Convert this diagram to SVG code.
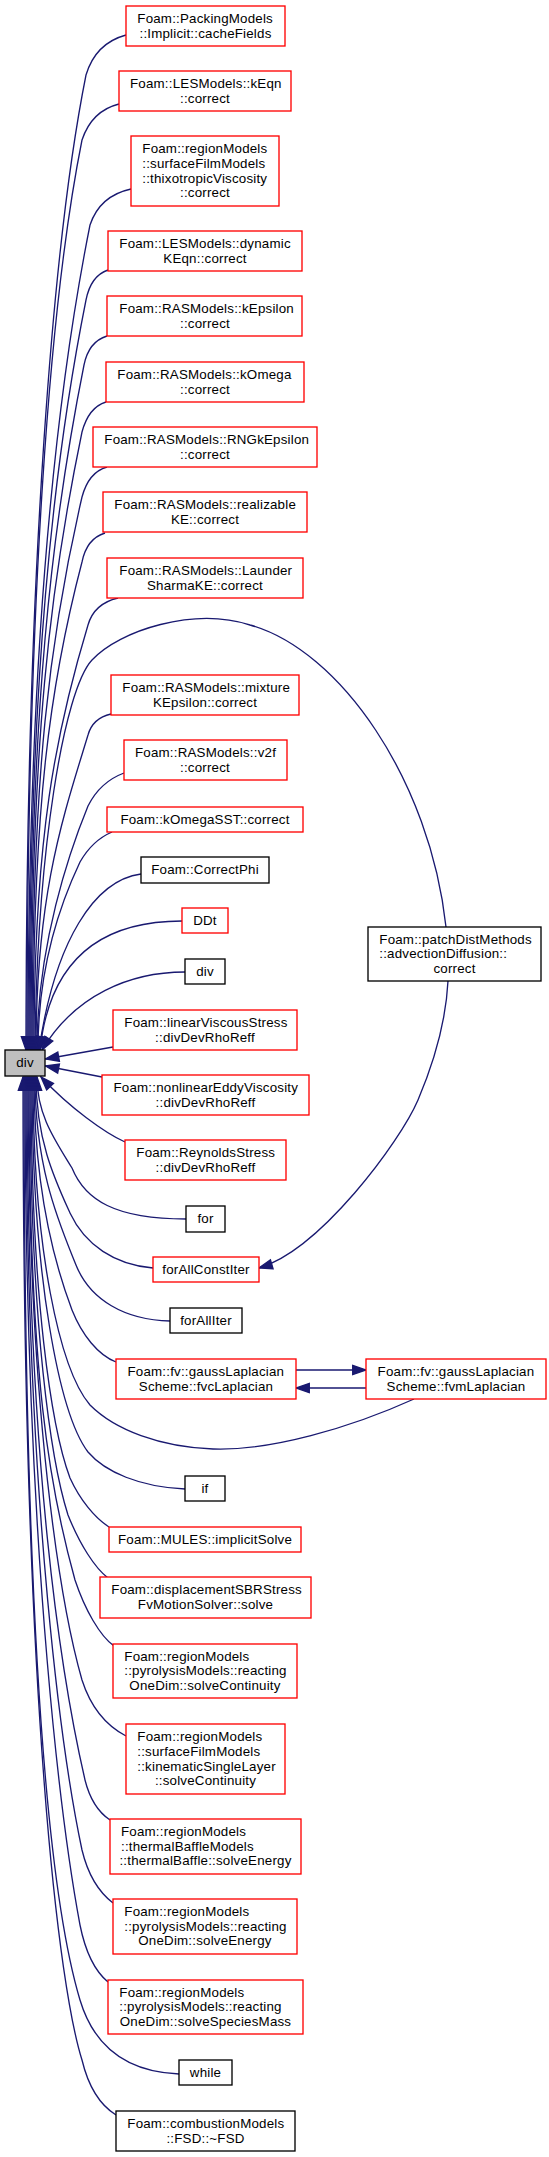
<svg xmlns="http://www.w3.org/2000/svg" width="549" height="2157" viewBox="0 0 549 2157">
<style>
.r{fill:#fff;stroke:#ff0000;stroke-width:1.33}
.b{fill:#fff;stroke:#000;stroke-width:1.33}
.g{fill:#bfbfbf;stroke:#000;stroke-width:1.33}
text{font-family:"Liberation Sans",Arial,Helvetica,sans-serif;font-size:13.33px;fill:#000;letter-spacing:0.2px}
.m{text-anchor:middle}
.e{fill:none;stroke:#191970;stroke-width:1.33;marker-end:url(#ah)}
</style>
<defs>
<marker id="ah" markerWidth="18" markerHeight="14" refX="15.3" refY="6.67" orient="auto" markerUnits="userSpaceOnUse">
<path d="M2,2 L15.3,6.67 L2,11.33 Z" fill="#191970" stroke="#191970" stroke-width="1.33"/>
</marker>
</defs>
<rect width="549" height="2157" fill="#fff"/>
<g id="edges">
<path class="e" d="M126,35 C104,41 92,55 86,75 C54,235 26,563 26,1050"/>
<path class="e" d="M119,104 C99,109 88,122 82,140 C50,300 27,595 27,1050"/>
<path class="e" d="M131,189 C108,194 96,207 90,225 C58,385 28,638 28,1050"/>
<path class="e" d="M108,270 C96,274 89,285 86,300 C54,460 29,675 29,1050"/>
<path class="e" d="M107,336 C94,340 87,350 84,365 C52,525 30,708 30,1050"/>
<path class="e" d="M106,402 C93,406 86,417 82,432 C50,586 31,741 31,1050"/>
<path class="e" d="M107,467 C93,471 86,482 82,497 C50,635 32,773 32,1050"/>
<path class="e" d="M105,533 C92,537 85,547 82,562 C50,684 33,806 33,1050"/>
<path class="e" d="M118,598 C101,602 92,611 88,625 C56,731 34,837 34,1050"/>
<path class="e" d="M446,927 C430,780 340,650 250,625 C194,607 120,630 92,660 C64,690 37,850 35,1050"/>
<path class="e" d="M111,714 C98,717 91,724 88,735 C64,814 36,892 36,1050"/>
<path class="e" d="M124,773 C108,779 96,790 88,806 C70,850 37,945 37,1050"/>
<path class="e" d="M112,832 C98,838 88,848 80,862 C62,900 38,965 38,1050"/>
<path class="e" d="M141,874 C95,880 55,940 39,1050"/>
<path class="e" d="M182,921 C105,921 50,955 40,1050"/>
<path class="e" d="M185,972 C130,972 75,995 42,1050"/>
<path class="e" d="M113,1047 L45.5,1059"/>
<path class="e" d="M102,1077 L45.5,1066"/>
<path class="e" d="M125,1142 C105,1133 70,1108 41,1077"/>
<path class="e" d="M186,1219 C115,1219 85,1200 72,1168 C55,1140 37,1115 37,1077"/>
<path class="e" d="M153,1268 C115,1265 85,1245 70,1213 C55,1180 36,1140 36,1077"/>
<path class="e" d="M170,1321 C125,1320 90,1300 76,1265 C60,1225 35,1170 35,1077"/>
<path class="e" d="M116,1362 C98,1355 82,1335 72,1310 C55,1265 34,1190 34,1077"/>
<path class="e" d="M414,1399 C350,1428 270,1451 213,1449 C160,1447 115,1430 90,1405 C60,1370 33,1250 33,1077"/>
<path class="e" d="M185,1489 C140,1487 105,1472 88,1452 C60,1415 32,1280 32,1077"/>
<path class="e" d="M109,1527 C95,1518 80,1500 70,1478 C52,1430 31,1300 31,1077"/>
<path class="e" d="M108,1578 C95,1568 80,1545 68,1515 C52,1465 30,1330 30,1077"/>
<path class="e" d="M114,1646 C100,1636 85,1610 75,1580 C50,1490 29,1380 29,1077"/>
<path class="e" d="M126,1736 C105,1725 90,1705 82,1680 C62,1610 28,1420 28,1077"/>
<path class="e" d="M110,1820 C98,1812 90,1800 85,1780 C62,1680 27,1470 27,1077"/>
<path class="e" d="M113,1903 C100,1893 88,1875 82,1850 C65,1770 26,1520 26,1077"/>
<path class="e" d="M108,1982 C96,1972 86,1955 80,1925 C66,1850 25,1580 25,1077"/>
<path class="e" d="M179,2074 C130,2072 95,2050 80,2000 C50,1900 24,1650 24,1077"/>
<path class="e" d="M116,2115 C100,2105 88,2085 82,2060 C60,1990 23,1720 23,1077"/>
<path class="e" d="M448,981 C446,1020 435,1060 418,1100 C400,1142 320,1250 259,1268"/>
<path class="e" d="M296,1370 L366,1370"/>
<path class="e" d="M366,1388 L296,1388"/>
</g>
<g id="n_div"><rect class="g" x="5" y="1050" width="40" height="26"/><text class="m" x="25" y="1067.2">div</text></g>
<g id="n1"><rect class="r" x="126" y="6" width="159" height="40"/><text x="137.3" y="22.9">Foam::PackingModels</text><text class="m" x="205.5" y="37.5">::Implicit::cacheFields</text></g>
<g id="n2"><rect class="r" x="119" y="71" width="172" height="40"/><text x="130" y="87.9">Foam::LESModels::kEqn</text><text class="m" x="205" y="102.5">::correct</text></g>
<g id="n3"><rect class="r" x="131" y="136" width="148" height="70"/><text x="142.3" y="153.2">Foam::regionModels</text><text x="142.3" y="167.9">::surfaceFilmModels</text><text x="142.3" y="182.5">::thixotropicViscosity</text><text class="m" x="205" y="197.2">::correct</text></g>
<g id="n4"><rect class="r" x="108" y="231" width="194" height="40"/><text x="119.3" y="247.9">Foam::LESModels::dynamic</text><text class="m" x="205" y="262.5">KEqn::correct</text></g>
<g id="n5"><rect class="r" x="107" y="296" width="195" height="40"/><text x="119.3" y="312.9">Foam::RASModels::kEpsilon</text><text class="m" x="205" y="327.5">::correct</text></g>
<g id="n6"><rect class="r" x="106" y="362" width="198" height="40"/><text x="117.3" y="378.9">Foam::RASModels::kOmega</text><text class="m" x="205" y="393.5">::correct</text></g>
<g id="n7"><rect class="r" x="93" y="427" width="224" height="40"/><text x="104.3" y="443.9">Foam::RASModels::RNGkEpsilon</text><text class="m" x="205" y="458.5">::correct</text></g>
<g id="n8"><rect class="r" x="103" y="492" width="204" height="40"/><text x="114.3" y="508.9">Foam::RASModels::realizable</text><text class="m" x="205" y="523.5">KE::correct</text></g>
<g id="n9"><rect class="r" x="107" y="558" width="196" height="40"/><text x="119.3" y="574.9">Foam::RASModels::Launder</text><text class="m" x="205" y="589.5">SharmaKE::correct</text></g>
<g id="n10"><rect class="r" x="111" y="675" width="188" height="40"/><text x="122.3" y="691.9">Foam::RASModels::mixture</text><text class="m" x="205" y="706.5">KEpsilon::correct</text></g>
<g id="n11"><rect class="r" x="124" y="740" width="163" height="40"/><text x="135" y="756.9">Foam::RASModels::v2f</text><text class="m" x="205" y="771.5">::correct</text></g>
<g id="n12"><rect class="r" x="107" y="807" width="196" height="25"/><text class="m" x="205" y="823.7">Foam::kOmegaSST::correct</text></g>
<g id="n13"><rect class="b" x="141" y="857" width="128" height="26"/><text class="m" x="205" y="874.2">Foam::CorrectPhi</text></g>
<g id="n14"><rect class="r" x="182" y="908" width="46" height="25"/><text class="m" x="205" y="924.7">DDt</text></g>
<g id="n15"><rect class="b" x="185" y="959" width="40" height="25"/><text class="m" x="205" y="975.7">div</text></g>
<g id="n16"><rect class="r" x="113" y="1010" width="184" height="40"/><text x="124.3" y="1026.9">Foam::linearViscousStress</text><text class="m" x="205" y="1041.5">::divDevRhoReff</text></g>
<g id="n17"><rect class="r" x="102" y="1075" width="207" height="40"/><text x="113.5" y="1091.9">Foam::nonlinearEddyViscosity</text><text class="m" x="205.5" y="1106.5">::divDevRhoReff</text></g>
<g id="n18"><rect class="r" x="125" y="1140" width="161" height="40"/><text x="136.3" y="1156.9">Foam::ReynoldsStress</text><text class="m" x="205.5" y="1171.5">::divDevRhoReff</text></g>
<g id="n19"><rect class="b" x="186" y="1206" width="39" height="26"/><text class="m" x="205.5" y="1223.2">for</text></g>
<g id="n20"><rect class="r" x="153" y="1257" width="106" height="25"/><text class="m" x="206" y="1273.7">forAllConstIter</text></g>
<g id="n21"><rect class="b" x="170" y="1308" width="72" height="25"/><text class="m" x="206" y="1324.7">forAllIter</text></g>
<g id="n22"><rect class="r" x="116" y="1359" width="180" height="40"/><text x="127.5" y="1375.9">Foam::fv::gaussLaplacian</text><text class="m" x="206" y="1390.5">Scheme::fvcLaplacian</text></g>
<g id="n23"><rect class="r" x="366" y="1359" width="180" height="40"/><text x="377.6" y="1375.9">Foam::fv::gaussLaplacian</text><text class="m" x="456" y="1390.5">Scheme::fvmLaplacian</text></g>
<g id="n_patch"><rect class="b" x="368" y="927" width="173" height="54"/><text x="379.3" y="943.5">Foam::patchDistMethods</text><text x="379.3" y="958.2">::advectionDiffusion::</text><text class="m" x="454.5" y="972.9">correct</text></g>
<g id="n24"><rect class="b" x="185" y="1476" width="40" height="25"/><text class="m" x="205" y="1492.7">if</text></g>
<g id="n25"><rect class="r" x="109" y="1527" width="192" height="25"/><text class="m" x="205" y="1543.7">Foam::MULES::implicitSolve</text></g>
<g id="n26"><rect class="r" x="100" y="1577" width="211" height="41"/><text x="111.3" y="1594.4">Foam::displacementSBRStress</text><text class="m" x="205.5" y="1609">FvMotionSolver::solve</text></g>
<g id="n27"><rect class="r" x="113" y="1644" width="184" height="54"/><text x="124.3" y="1660.5">Foam::regionModels</text><text x="124.3" y="1675.2">::pyrolysisModels::reacting</text><text class="m" x="205" y="1689.9">OneDim::solveContinuity</text></g>
<g id="n28"><rect class="r" x="126" y="1724" width="159" height="70"/><text x="137.3" y="1741.2">Foam::regionModels</text><text x="137.3" y="1755.9">::surfaceFilmModels</text><text x="137.3" y="1770.5">::kinematicSingleLayer</text><text class="m" x="205.5" y="1785.2">::solveContinuity</text></g>
<g id="n29"><rect class="r" x="110" y="1819" width="191" height="55"/><text x="121" y="1836">Foam::regionModels</text><text x="121" y="1850.7">::thermalBaffleModels</text><text class="m" x="205.5" y="1865.4">::thermalBaffle::solveEnergy</text></g>
<g id="n30"><rect class="r" x="113" y="1899" width="184" height="55"/><text x="124.3" y="1916">Foam::regionModels</text><text x="124.3" y="1930.7">::pyrolysisModels::reacting</text><text class="m" x="205" y="1945.4">OneDim::solveEnergy</text></g>
<g id="n31"><rect class="r" x="108" y="1980" width="195" height="54"/><text x="119.3" y="1996.5">Foam::regionModels</text><text x="119.3" y="2011.2">::pyrolysisModels::reacting</text><text class="m" x="205.5" y="2025.9">OneDim::solveSpeciesMass</text></g>
<g id="n32"><rect class="b" x="179" y="2060" width="53" height="25"/><text class="m" x="205.5" y="2076.7">while</text></g>
<g id="n33"><rect class="b" x="116" y="2111" width="179" height="40"/><text x="127.3" y="2127.9">Foam::combustionModels</text><text class="m" x="205.5" y="2142.5">::FSD::~FSD</text></g>
</svg>
